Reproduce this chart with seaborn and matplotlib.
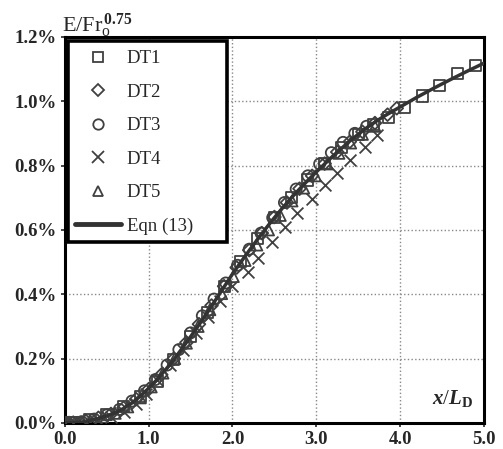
# Spreading curve E/Fr_o^0.75 vs x/L_D, five tests plus Eqn (13)
import numpy as np
import pandas as pd
import seaborn as sns
import matplotlib.pyplot as plt
from matplotlib.lines import Line2D
from matplotlib.patches import Rectangle

# Eqn (13) curve, E in %
eqn_x = [0.0, 0.1, 0.2, 0.3, 0.4, 0.5, 0.6, 0.7, 0.8, 0.9, 1.0, 1.1, 1.2, 1.3, 1.4,
         1.5, 1.6, 1.7, 1.8, 1.9, 2.0, 2.1, 2.2, 2.3, 2.4, 2.5, 2.6, 2.7, 2.8, 2.9,
         3.0, 3.1, 3.2, 3.3, 3.4, 3.5, 3.6, 3.7, 3.8, 3.9, 4.0, 4.2, 4.4, 4.6, 4.8, 5.0]
eqn_y = [0.0, 0.001, 0.003, 0.008, 0.014, 0.022, 0.032, 0.045, 0.062, 0.083, 0.108,
         0.135, 0.165, 0.197, 0.232, 0.268, 0.305, 0.343, 0.383, 0.423, 0.463, 0.5,
         0.536, 0.571, 0.605, 0.638, 0.669, 0.699, 0.727, 0.754, 0.78, 0.805, 0.83,
         0.853, 0.876, 0.897, 0.917, 0.935, 0.952, 0.967, 0.982, 1.012, 1.04, 1.067,
         1.093, 1.118]

dt1_x = [0.0, 0.04, 0.08, 0.12, 0.3, 0.5, 0.7, 0.9, 1.1, 1.3, 1.5, 1.7, 1.9, 2.1, 2.3,
         2.5, 2.7, 2.9, 3.1, 3.3, 3.5, 3.68, 3.86, 4.05, 4.27, 4.47, 4.69, 4.9]
dt1_y = [0.0, 0.0, 0.0, 0.0, 0.01, 0.025, 0.05, 0.082, 0.13, 0.198, 0.268, 0.343, 0.425,
         0.502, 0.573, 0.638, 0.7, 0.755, 0.805, 0.855, 0.897, 0.928, 0.95, 0.98, 1.016,
         1.048, 1.085, 1.11]

dt2_x = [0.0, 0.05, 0.1, 0.25, 0.4, 0.55, 0.7, 0.85, 1.0, 1.15, 1.3, 1.45, 1.6, 1.75,
         1.9, 2.05, 2.2, 2.35, 2.5, 2.65, 2.8, 2.95, 3.1, 3.25, 3.4, 3.55, 3.7, 3.85, 3.96]
dt2_y = [0.0, 0.0, 0.001, 0.006, 0.016, 0.028, 0.047, 0.074, 0.105, 0.15, 0.2, 0.25,
         0.307, 0.365, 0.425, 0.483, 0.537, 0.59, 0.64, 0.685, 0.728, 0.768, 0.806,
         0.842, 0.874, 0.905, 0.932, 0.958, 0.978]

dt3_x = [0.0, 0.08, 0.2, 0.35, 0.5, 0.65, 0.8, 0.95, 1.08, 1.22, 1.36, 1.5, 1.64, 1.78,
         1.92, 2.06, 2.2, 2.34, 2.48, 2.62, 2.76, 2.9, 3.04, 3.18, 3.32, 3.46, 3.6]
dt3_y = [0.0, 0.001, 0.004, 0.012, 0.025, 0.042, 0.068, 0.1, 0.135, 0.18, 0.228, 0.28,
         0.333, 0.385, 0.435, 0.49, 0.54, 0.59, 0.638, 0.685, 0.727, 0.768, 0.805,
         0.84, 0.872, 0.9, 0.922]

dt4_x = [0.0, 0.1, 0.25, 0.4, 0.55, 0.7, 0.85, 0.97, 1.1, 1.25, 1.41, 1.57, 1.71, 1.85,
         2.0, 2.18, 2.3, 2.47, 2.63, 2.77, 2.95, 3.1, 3.25, 3.4, 3.58, 3.73]
dt4_y = [0.0, 0.001, 0.004, 0.01, 0.02, 0.035, 0.06, 0.09, 0.134, 0.18, 0.227, 0.28,
         0.33, 0.38, 0.425, 0.47, 0.513, 0.563, 0.61, 0.653, 0.696, 0.74, 0.777, 0.817,
         0.858, 0.895]

dt5_x = [0.0, 0.06, 0.15, 0.3, 0.45, 0.6, 0.75, 0.9, 1.03, 1.17, 1.31, 1.45, 1.59, 1.73,
         1.87, 2.01, 2.15, 2.29, 2.43, 2.57, 2.71, 2.85, 2.99, 3.13, 3.27, 3.41, 3.55, 3.7]
dt5_y = [0.0, 0.0, 0.002, 0.008, 0.018, 0.03, 0.05, 0.078, 0.112, 0.155, 0.2, 0.248,
         0.3, 0.352, 0.402, 0.455, 0.505, 0.553, 0.6, 0.645, 0.69, 0.73, 0.768, 0.805,
         0.838, 0.87, 0.897, 0.922]

series = [('DT1', dt1_x, dt1_y, 's'), ('DT2', dt2_x, dt2_y, 'D'),
          ('DT3', dt3_x, dt3_y, 'o'), ('DT4', dt4_x, dt4_y, 'x'),
          ('DT5', dt5_x, dt5_y, '^')]
msizes = {'s': 8.0, 'D': 6.5, 'o': 8.0, 'x': 8.5, '^': 8.0}

sns.set_style('white')
plt.rcParams['font.family'] = ['Liberation Serif', 'DejaVu Serif']
plt.rcParams['mathtext.fontset'] = 'custom'
plt.rcParams['mathtext.rm'] = 'Liberation Serif'
plt.rcParams['mathtext.it'] = 'Liberation Serif:italic:bold'
plt.rcParams['mathtext.bf'] = 'Liberation Serif:bold'

mcol = '#404040'
fig = plt.figure(figsize=(5.03, 4.49), dpi=100)
ax = fig.add_axes([0.129, 0.058, 0.833, 0.86])

for name, xs, ys, m in series:
    df = pd.DataFrame({'x': xs, 'y': ys})
    if m == 'x':
        sns.scatterplot(data=df, x='x', y='y', marker=m, s=msizes[m] ** 2,
                        color=mcol, linewidth=1.3, ax=ax, zorder=3)
    else:
        sns.scatterplot(data=df, x='x', y='y', marker=m, s=msizes[m] ** 2,
                        facecolors='none', edgecolor=mcol, linewidth=1.3, ax=ax, zorder=3)

eqn = pd.DataFrame({'x': eqn_x, 'y': eqn_y})
sns.lineplot(data=eqn, x='x', y='y', color='#333333', linewidth=2.5, ax=ax, zorder=4)

ax.set_xlim(0, 5)
ax.set_ylim(0, 1.2)
ax.set_xticks([0, 1, 2, 3, 4, 5])
ax.set_xticklabels(['0.0', '1.0', '2.0', '3.0', '4.0', '5.0'])
ax.set_yticks([0, 0.2, 0.4, 0.6, 0.8, 1.0, 1.2])
ax.set_yticklabels(['0.0%', '0.2%', '0.4%', '0.6%', '0.8%', '1.0%', '1.2%'])
ax.tick_params(labelsize=13.5, length=3, width=1.2, pad=3, direction='out',
               bottom=True, left=True)
for lab in ax.get_xticklabels() + ax.get_yticklabels():
    lab.set_fontweight('bold')
ax.set_xlabel('')
ax.set_ylabel('')
ax.grid(True, color='#888888', linestyle=':', linewidth=1.0)
for sp in ax.spines.values():
    sp.set_linewidth(2.2)
    sp.set_color('black')

ax.text(-0.007, 0.992, r'E/Fr$_\mathrm{o}^{\,\mathbf{0.75}}$', transform=ax.transAxes,
        fontsize=16, ha='left', va='bottom')
ax.text(0.975, 0.035, r'$x/L_\mathbf{D}$', transform=ax.transAxes,
        fontsize=15, ha='right', va='bottom')

handles = [Line2D([], [], linestyle='none', marker=m, markersize=msizes[m] - 0.5,
                  markerfacecolor='none', markeredgecolor=mcol, markeredgewidth=1.3,
                  color=mcol)
           for _, _, _, m in series]
handles.append(Line2D([], [], color='#333333', linewidth=3.5))
labels = [s[0] for s in series] + ['Eqn (13)']
leg = ax.legend(handles, labels, loc='upper left', bbox_to_anchor=(0.024, 0.965),
                fontsize=13.5, frameon=False, labelspacing=0.87, handlelength=2.45,
                handletextpad=0.32, borderpad=0, borderaxespad=0)
leg.set_zorder(5)

# legend box with heavy frame
box = Rectangle((0.008, 0.469), 0.379, 0.521, transform=ax.transAxes,
                facecolor='white', edgecolor='black', linewidth=2.6, zorder=4.5)
ax.add_patch(box)

fig.savefig('out.png', dpi=100)
